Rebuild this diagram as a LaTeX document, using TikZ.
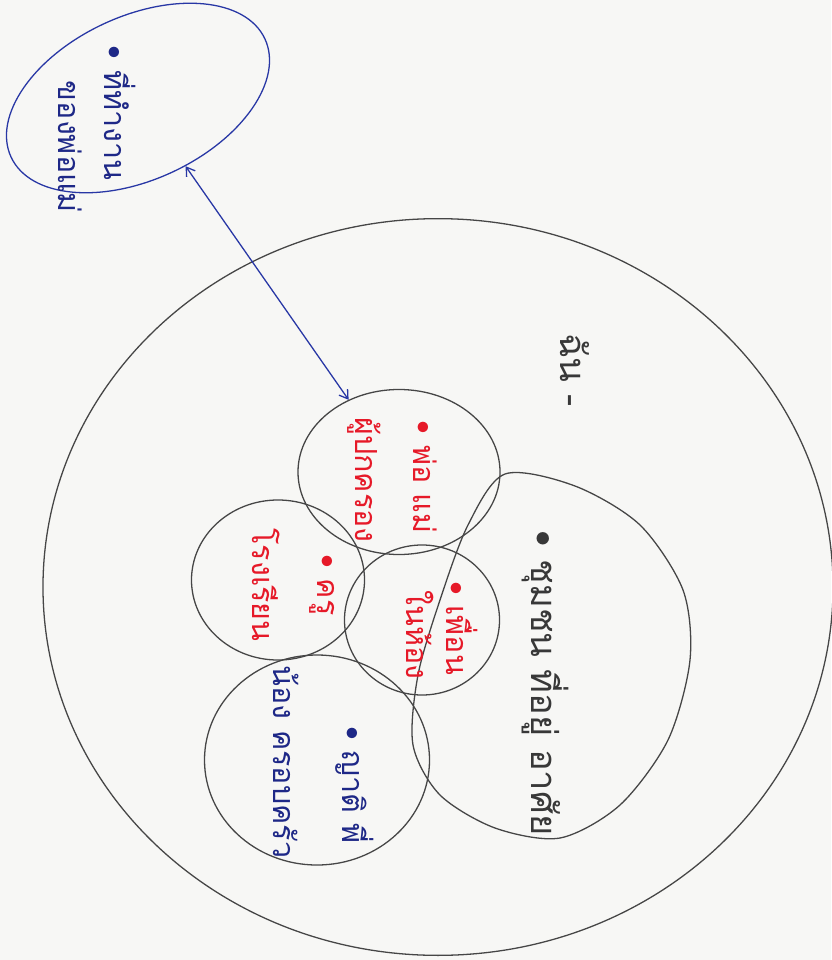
\documentclass[tikz,border=0pt]{standalone}
\usepackage{fontspec}
\newfontfamily\thaifont[Script=Thai]{Loma}
\usetikzlibrary{shapes.geometric,arrows.meta}
\definecolor{penblue}{RGB}{40,55,165}
\definecolor{inkblue}{RGB}{30,40,135}
\definecolor{penred}{RGB}{230,25,40}
\definecolor{pengray}{RGB}{70,70,70}
\definecolor{paper}{RGB}{247,247,245}

\begin{document}
\begin{tikzpicture}[x=0.03cm, y=-0.03cm, >={Straight Barb[length=7pt,width=9pt]}, line width=1.1pt,
  loop/.style={draw=pengray, ellipse, inner sep=0pt},
  note/.style={font=\thaifont\fontsize{26}{30}\selectfont, rotate=-90, inner sep=0pt},
  bignote/.style={font=\thaifont\fontsize{31}{35}\selectfont, rotate=-90, inner sep=0pt, text=pengray!80!black}]
% 1. paper
\fill[paper] (0,0) rectangle (831,960);
\useasboundingbox (0,0) rectangle (831,960);

% 2. circles
\node[loop, minimum width=23.7cm, minimum height=22.1cm] (world) at (438,587) {};
\node[loop, draw=penblue, minimum width=8.4cm, minimum height=4.9cm, rotate=25] (outer) at (138,98) {};
\node[loop, minimum width=6.06cm, minimum height=4.95cm] (redtop) at (399,472) {};
\node[loop, minimum width=5.19cm, minimum height=4.8cm] (redleft) at (278,580) {};
\node[loop, minimum width=4.65cm, minimum height=4.5cm] (redmid) at (422,620) {};
\node[loop, minimum width=6.75cm, minimum height=6.3cm] (bluelow) at (317,760) {};
\draw[pengray] plot[smooth cycle] coordinates {(505,474) (575,486) (640,525) (683,590) (690,660)
  (668,740) (620,805) (560,838) (495,828) (440,795) (413,745) (418,675) (440,600) (468,525)};

% 3. link
\draw[<->, penblue] (outer) -- (redtop);

% 4. texts
\node[note, text=inkblue] (outa) at (120,113) {• ที่ทำงาน};
\node[note, text=inkblue] (outb) at (70,147) {ของพ่อแม่};
\node[note, text=penred] (topa) at (425,477) {• พ่อ แม่};
\node[note, text=penred] (topb) at (364,480) {ผู้ปกครอง};
\node[note, text=penred] (lefta) at (322,585) {• ครู};
\node[note, text=penred] (leftb) at (266,585) {โรงเรียน};
\node[note, text=penred] (mida) at (462,628) {• เพื่อน};
\node[note, text=penred] (midb) at (420,635) {ในห้อง};
\node[note, text=inkblue] (lowa) at (355,785) {• ญาติ พี่};
\node[note, text=inkblue] (lowb) at (286,762) {น้อง ครอบครัว};
\node[bignote] (bigtext) at (545,683) {• ชุมชน ที่อยู่ อาศัย};
\node[bignote] (label) at (575,370) {ฉัน -};
\end{tikzpicture}
\end{document}
